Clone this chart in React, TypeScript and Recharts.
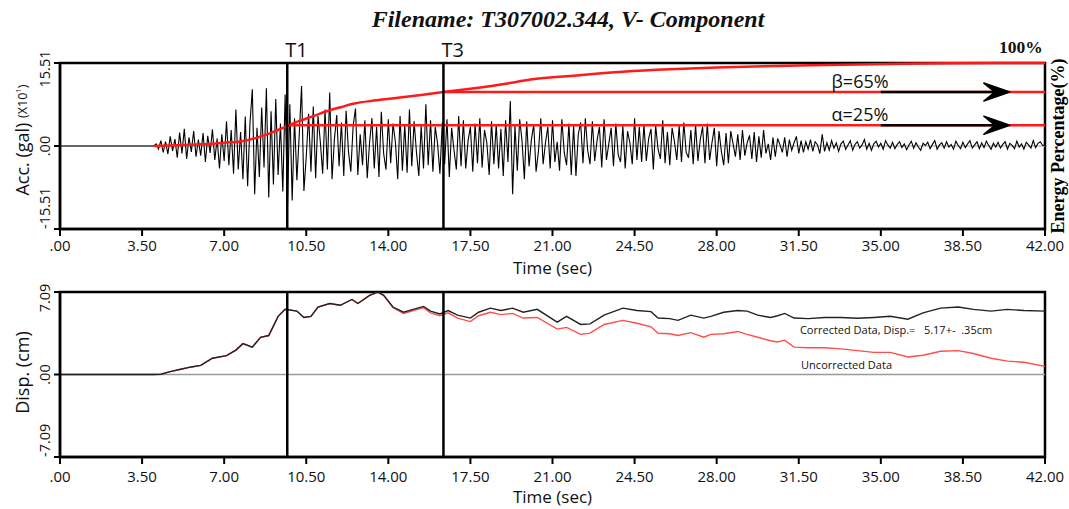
import React from "react";
import {
  LineChart,
  Line,
  XAxis,
  YAxis,
  ReferenceLine,
  ReferenceArea,
  ReferenceDot,
} from "recharts";

const FONT = "'Open Sans', sans-serif";
const SERIF = "'Liberation Serif', 'Times New Roman', serif";

// x axis (seconds)
const xTicks = [0, 3.5, 7, 10.5, 14, 17.5, 21, 24.5, 28, 31.5, 35, 38.5, 42];
const accTicks = [-15.51, 0, 15.51];
const dispTicks = [-7.09, 0, 7.09];

// T1 / T3 markers and energy thresholds
const t1 = 9.69;
const t3 = 16.35;
const alphaPct = 25;
const betaPct = 65;

// acceleration record (gal x10), sampled every 0.1 s from 4.0 s
const accStart = 4.0;
const accStep = 0.1;
const accValues = [
  0, 0.4, -0.6, 1.0, -1.2, 0.8, -1.5, 1.8, -0.9, 1.3,
  -2.2, 2.5, -1.4, 3.2, -2.4, 1.6, -1.1, 2.8, -2.0, 1.2,
  -1.8, 2.4, -3.0, 1.9, -1.3, 3.1, -2.6, 1.4, -4.2, 2.2,
  -2.8, 4.6, -3.6, 3.0, -5.2, 6.8, -4.4, 2.6, -6.2, 5.5,
  -7.5, 4.2, 10.6, -9.0, 3.4, -5.8, 7.2, -4.0, 10.8, -9.6,
  6.5, -7.2, 8.8, -5.4, 4.2, -8.5, 9.6, -11.2, 7.8, -10.2,
  5.2, -6.4, 2.0, 11.2, -8.4, -2.0, 6.0, -4.8, 7.4, -6.0,
  5.6, 0.8, -5.2, 6.8, -4.4, 10.0, -6.2, 1.2, 5.8, -3.8,
  4.4, -5.6, 6.6, -1.0, -4.8, 3.8, 7.0, -5.4, 2.2, -3.6,
  4.8, -6.0, 0.6, 5.2, -4.2, 3.6, -5.8, 6.4, -1.4, -4.4,
  5.0, -3.2, 4.2, 0.8, -6.2, 5.6, -4.6, 4.0, -5.0, 6.8,
  -3.8, 4.6, -1.2, -5.6, 3.8, -4.2, 7.8, -3.6, 4.8, -4.8,
  3.6, 0.4, -5.2, 4.4, -3.4, 5.0, -5.8, 3.4, -0.8, -4.4,
  5.6, -3.8, 4.8, -4.2, 1.0, 3.6, -4.8, 4.2, -3.2, 5.2,
  -4.0, 3.0, 0.6, -5.4, 4.6, -3.4, 4.0, -4.2, 3.2, -5.6,
  4.8, -3.0, 8.4, -9.0, 3.8, -4.6, 5.0, 1.0, -6.2, 4.6,
  -3.8, 1.2, 4.0, -4.8, -1.0, 5.2, -3.4, 0.6, 3.6, -4.2,
  4.8, -3.0, 0.8, -4.6, 5.0, -1.2, -3.6, 4.2, -5.4, 3.8,
  -5.6, 2.2, 4.4, -3.2, 5.2, -0.8, -3.4, 4.6, -2.8, 1.0,
  3.6, -4.0, 5.0, -2.6, 0.4, 3.4, -3.8, 4.2, -1.6, -3.0,
  3.8, -4.2, 2.8, 0.6, -3.4, 5.2, -2.6, 3.6, -3.0, 4.0,
  -2.8, 1.4, 3.2, -4.4, 3.8, -0.6, -2.4, 4.8, -3.2, 2.6,
  -3.6, 3.4, 0.8, -2.6, 3.8, -3.0, 4.4, -1.2, -2.2, 3.0,
  -3.4, 4.0, -2.8, 1.2, 3.6, -3.2, 4.2, -2.6, 0.6, 3.4,
  -3.8, 2.8, -1.0, -3.6, 2.4, -3.2, 2.8, 0.4, -2.0, 2.2,
  -2.6, 3.0, -1.8, 0.6, 2.0, -2.4, 2.6, -3.0, 1.8, -2.2,
  3.0, -1.4, 0.4, -2.6, 1.6, -2.0, 1.4, 0.2, -1.2, 1.6,
  -2.0, 1.2, -0.8, 0.6, 1.8, -1.4, 1.0, -1.2, 0.8, -0.6,
  1.2, -1.0, 0.8, 0.2, -1.4, 2.2, -1.0, 0.6, -0.8, 1.0,
  -0.4, 0.6, -1.0, 0.4, 0.9, -0.6, 0.2, 1.0, -0.8, 0.3,
  0.8, -0.4, 0.2, 1.2, -0.6, 0.5, -0.8, 0.4, 0.9, -0.2,
  0.5, -0.6, 1.0, 0.2, -0.4, 0.7, -0.5, 0.3, 0.8, -0.3,
  0.4, -0.7, 0.2, 0.9, -0.4, 0.6, -0.2, -0.8, 0.5, 0.1,
  0.7, -0.5, 0.3, 1.0, -0.6, 0.2, 0.6, -0.4, 0.8, -0.2,
  0.3, -0.6, 0.9, 0.1, -0.5, 0.7, -0.3, 0.4, 1.0, -0.4,
  0.2, 0.8, -0.5, 0.6, -0.3, 0.9, 0.1, -0.6, 0.5, -0.2,
  0.7, -0.4, 0.3, 0.8, -0.6, 0.5, 0.1, -0.5, 0.9, -0.2,
  0.4, -0.6, 0.7, 0.2, -0.4, 1.0, -0.3, 0.5, 0.8, 0.1,
  0.2,
];

// cumulative energy (%)
const energyTime = [
  4.0, 5.0, 6.0, 7.0, 7.7, 8.4, 9.1, 9.69, 10.1, 10.8, 11.5, 12.0, 12.5, 13.5,
  14.4, 15.4, 16.35, 17.5, 19.0, 20.06, 22.0, 24.0, 26.0, 28.0, 30.0, 32.0,
  34.0, 36.0, 38.0, 40.0, 42.0,
];
const energyPct = [
  0, 1, 2, 4, 5.5, 10, 17, 24, 29, 36, 43, 47, 51, 55, 58, 61.5, 65, 69, 75,
  80, 85, 89.5, 92.5, 94.5, 96, 97.2, 98.2, 99, 99.6, 99.9, 100,
];

// displacement (cm)
const dispTime = [
  0, 4.0, 4.3, 4.7, 5.1, 5.6, 6.0, 6.5, 7.1, 7.5, 7.8, 8.2, 8.55, 8.9, 9.3,
  9.6, 10.1, 10.4, 10.7, 11.0, 11.5, 11.95, 12.45, 12.7, 13.2, 13.55, 13.8,
  14.2, 14.65, 15.25, 15.5, 15.8, 16.2, 16.55, 16.95, 17.5, 17.85, 18.35,
  18.8, 19.3, 19.75, 20.35, 21.2, 21.6, 22.2, 22.6, 23.2, 24.0, 24.6, 25.2,
  25.5, 26.0, 26.35, 26.9, 27.45, 27.75, 28.3, 28.9, 29.3, 29.75, 30.3, 30.6,
  30.9, 31.3, 31.9, 32.6, 33.3, 34.0, 34.7, 35.4, 36.15, 36.8, 37.55, 38.3,
  38.95, 39.7, 40.4, 41.1, 42.0,
];
const dispCorrected = [
  0, 0, 0.02, 0.25, 0.43, 0.65, 0.78, 1.4, 1.62, 2.1, 2.65, 2.35, 3.2, 3.35,
  5.0, 5.6, 5.45, 4.9, 5.0, 5.8, 6.1, 5.95, 6.45, 6.1, 6.8, 7.08, 6.8,
  5.8, 5.35, 5.7, 5.85, 5.45, 5.2, 5.5, 5.1, 4.85, 5.35, 5.7,
  5.5, 5.7, 5.35, 5.6, 4.5, 5.0, 4.3, 4.35, 5.1, 5.7, 5.5, 5.4,
  4.85, 4.8, 4.65, 5.1, 4.85, 5.0, 5.35, 5.5, 5.45, 5.1, 4.9, 5.05,
  5.25, 4.85, 4.8, 4.9, 4.9, 4.83, 4.9, 5.0, 4.75, 5.3, 5.7, 5.8,
  5.6, 5.45, 5.6, 5.5, 5.45,
];
const dispUncorrected = [
  0, 0, 0.02, 0.25, 0.43, 0.65, 0.78, 1.4, 1.62, 2.1, 2.65, 2.35, 3.2, 3.35,
  5.0, 5.6, 5.45, 4.9, 5.0, 5.8, 6.1, 5.95, 6.45, 6.1, 6.8, 7.08, 6.8,
  5.75, 5.25, 5.6, 5.75, 5.3, 5.05, 5.3, 4.85, 4.55, 5.05, 5.35,
  5.15, 5.25, 4.85, 4.9, 3.9, 4.05, 3.45, 3.55, 4.3, 4.65, 4.4, 4.1,
  3.55, 3.5, 3.35, 3.6, 3.2, 3.45, 3.5, 3.7, 3.45, 3.2, 2.9, 2.8,
  2.95, 2.35, 2.3, 2.3, 2.2, 2.05, 1.9, 1.9, 1.5, 1.65, 2.0, 2.05,
  1.8, 1.4, 1.15, 1.05, 0.7,
];

const accData = [{ t: 0, a: 0 }].concat(
  accValues.map((a, i) => ({ t: +(accStart + i * accStep).toFixed(2), a }))
);
const energyData = energyTime.map((t, i) => ({ t, e: energyPct[i] }));
const dispData = dispTime.map((t, i) => ({
  t,
  c: dispCorrected[i],
  u: dispUncorrected[i],
}));

const fmt = (v: number) => (Math.abs(v) < 1e-9 ? ".00" : v.toFixed(2));

// rotated y tick: lowest label starts at its tick, others sit just below centre
const YTick = ({ x, y, payload, lo }: any) => {
  const cx = x - 8;
  const v = payload.value;
  const isLo = v === lo;
  const cy = isLo ? y : v > 0 ? y + 6 : y;
  return (
    <text
      x={cx}
      y={cy}
      transform={`rotate(-90 ${cx} ${cy})`}
      textAnchor={isLo ? "start" : "middle"}
      dominantBaseline="central"
      fontSize={14.5}
      fontFamily={FONT}
      fill="#111"
    >
      {fmt(v)}
    </text>
  );
};

const TimeLabel = ({ viewBox }: any) => (
  <text
    x={viewBox.x + viewBox.width / 2}
    y={viewBox.y + viewBox.height - 6}
    textAnchor="middle"
    fontSize={17}
    fontFamily={FONT}
    fill="#111"
  >
    Time (sec)
  </text>
);

const AccLabel = ({ viewBox }: any) => {
  const x = viewBox.x + 22;
  const y = viewBox.y + viewBox.height / 2 - 6;
  return (
    <text
      x={x}
      y={y}
      transform={`rotate(-90 ${x} ${y})`}
      textAnchor="middle"
      dominantBaseline="central"
      fontFamily={FONT}
      fill="#111"
    >
      <tspan fontSize={18}>Acc. (gal) </tspan>
      <tspan fontSize={12.5}>(X10</tspan>
      <tspan fontSize={8} dy={-5}>1</tspan>
      <tspan fontSize={12.5} dy={5}>)</tspan>
    </text>
  );
};

const DispLabel = ({ viewBox }: any) => {
  const x = viewBox.x + 22;
  const y = viewBox.y + viewBox.height / 2 - 2;
  return (
    <text
      x={x}
      y={y}
      transform={`rotate(-90 ${x} ${y})`}
      textAnchor="middle"
      dominantBaseline="central"
      fontSize={18}
      fontFamily={FONT}
      fill="#111"
    >
      Disp. (cm)
    </text>
  );
};

const EnergyLabel = ({ viewBox }: any) => {
  const x = viewBox.x + 13;
  const y = viewBox.y + viewBox.height / 2;
  return (
    <text
      x={x}
      y={y}
      transform={`rotate(-90 ${x} ${y})`}
      textAnchor="middle"
      dominantBaseline="central"
      fontSize={18}
      fontWeight="bold"
      fontFamily={SERIF}
      fill="#000"
    >
      Energy Percentage(%)
    </text>
  );
};

const TLabel = ({ viewBox, text }: any) => (
  <text
    x={viewBox.x - 2}
    y={viewBox.y - 6}
    fontSize={20}
    fontFamily={FONT}
    fill="#111"
  >
    {text}
  </text>
);

const DotText = ({ viewBox, text, size, anchor, dy, bold, serif }: any) => (
  <text
    x={viewBox.x}
    y={viewBox.y + (dy || 0)}
    textAnchor={anchor || "start"}
    dominantBaseline="central"
    fontSize={size}
    fontWeight={bold ? "bold" : "normal"}
    fontFamily={serif ? SERIF : FONT}
    fill="#111"
    style={{ whiteSpace: "pre" }}
  >
    {text}
  </text>
);

const Arrow = (props: any) => {
  const { x1, y1, x2 } = props;
  const y = y1;
  return (
    <g>
      <line x1={x1} y1={y} x2={x2 - 12} y2={y} stroke="#000" strokeWidth={2.5} />
      <polygon
        points={`${x2},${y} ${x2 - 26},${y - 9} ${x2 - 15},${y} ${x2 - 26},${y + 9}`}
        fill="#000"
        stroke="#000"
        strokeWidth={1.5}
        strokeLinejoin="round"
      />
    </g>
  );
};

const xAxisProps: any = {
  type: "number",
  dataKey: "t",
  domain: [0, 42],
  ticks: xTicks,
  interval: 0,
  allowDataOverflow: true,
  tickFormatter: fmt,
  tick: { fontSize: 15, fill: "#111", fontFamily: FONT },
  tickSize: 7,
  axisLine: { stroke: "#000", strokeWidth: 2.5 },
  tickLine: { stroke: "#000", strokeWidth: 2 },
};

const yAxisLine = { stroke: "#000", strokeWidth: 2.5 };
const RED = "#ff1a1a";

export default function App() {
  return (
    <div style={{ position: "absolute", left: 0, top: 0, width: 1069, height: 509, background: "#fff" }}>
      <div
        style={{
          position: "absolute",
          left: 268,
          top: 5,
          width: 600,
          textAlign: "center",
          fontFamily: SERIF,
          fontWeight: "bold",
          fontStyle: "italic",
          fontSize: 24,
          lineHeight: "28px",
          color: "#111",
        }}
      >
        Filename: T307002.344, V- Component
      </div>

      <div style={{ position: "absolute", left: 0, top: 0 }}>
        <LineChart width={1069} height={280} data={accData} margin={{ top: 63, right: 0, bottom: 0, left: 0 }}>
          <XAxis {...xAxisProps} tickMargin={4} height={51} label={<TimeLabel />} />
          <YAxis
            yAxisId="acc"
            type="number"
            domain={[-15.51, 15.51]}
            ticks={accTicks}
            width={60}
            allowDataOverflow
            tick={<YTick lo={-15.51} />}
            tickSize={6}
            axisLine={yAxisLine}
            tickLine={{ stroke: "#000", strokeWidth: 2 }}
            label={<AccLabel />}
          />
          <YAxis
            yAxisId="energy"
            orientation="right"
            type="number"
            domain={[-100, 100]}
            width={24}
            tick={false}
            tickLine={false}
            axisLine={false}
            label={<EnergyLabel />}
          />
          <ReferenceArea
            yAxisId="acc"
            x1={0}
            x2={42}
            y1={-15.51}
            y2={15.51}
            fill="none"
            fillOpacity={0}
            stroke="#000"
            strokeWidth={2.5}
          />
          <ReferenceLine yAxisId="acc" y={0} stroke="#9a9a9a" strokeWidth={1} />
          <Line
            yAxisId="acc"
            dataKey="a"
            stroke="#000"
            strokeWidth={1.1}
            dot={false}
            isAnimationActive={false}
          />
          <Line
            yAxisId="energy"
            data={energyData}
            dataKey="e"
            type="monotone"
            stroke={RED}
            strokeWidth={2.5}
            dot={false}
            isAnimationActive={false}
          />
          <ReferenceLine
            yAxisId="energy"
            segment={[{ x: t1, y: alphaPct }, { x: 42, y: alphaPct }]}
            stroke={RED}
            strokeWidth={2.5}
          />
          <ReferenceLine
            yAxisId="energy"
            segment={[{ x: t3, y: betaPct }, { x: 42, y: betaPct }]}
            stroke={RED}
            strokeWidth={2.5}
          />
          <ReferenceLine
            yAxisId="energy"
            segment={[{ x: 35, y: betaPct }, { x: 40.5, y: betaPct }]}
            shape={Arrow}
          />
          <ReferenceLine
            yAxisId="energy"
            segment={[{ x: 35, y: alphaPct }, { x: 40.5, y: alphaPct }]}
            shape={Arrow}
          />
          <ReferenceLine yAxisId="acc" x={t1} stroke="#000" strokeWidth={2.5} label={<TLabel text="T1" />} />
          <ReferenceLine yAxisId="acc" x={t3} stroke="#000" strokeWidth={2.5} label={<TLabel text="T3" />} />
          <ReferenceDot
            yAxisId="energy"
            x={32.9}
            y={betaPct}
            r={0}
            stroke="none"
            label={<DotText text="β=65%" size={18} dy={-11} />}
          />
          <ReferenceDot
            yAxisId="energy"
            x={32.9}
            y={alphaPct}
            r={0}
            stroke="none"
            label={<DotText text="α=25%" size={18} dy={-11} />}
          />
          <ReferenceDot
            yAxisId="energy"
            x={41.9}
            y={100}
            r={0}
            stroke="none"
            label={<DotText text="100%" size={17.5} dy={-16} anchor="end" bold serif />}
          />
        </LineChart>
      </div>

      <div style={{ position: "absolute", left: 0, top: 280 }}>
        <LineChart width={1069} height={229} data={dispData} margin={{ top: 12, right: 24, bottom: 0, left: 0 }}>
          <XAxis {...xAxisProps} tickMargin={7} height={52} label={<TimeLabel />} />
          <YAxis
            type="number"
            domain={[-7.09, 7.09]}
            ticks={dispTicks}
            width={60}
            allowDataOverflow
            tick={<YTick lo={-7.09} />}
            tickSize={6}
            axisLine={yAxisLine}
            tickLine={{ stroke: "#000", strokeWidth: 2 }}
            label={<DispLabel />}
          />
          <ReferenceArea
            x1={0}
            x2={42}
            y1={-7.09}
            y2={7.09}
            fill="none"
            fillOpacity={0}
            stroke="#000"
            strokeWidth={2.5}
          />
          <ReferenceLine y={0} stroke="#9a9a9a" strokeWidth={1.5} />
          <Line
            dataKey="u"
            stroke="#ff4d4d"
            strokeWidth={1.4}
            dot={false}
            isAnimationActive={false}
          />
          <Line
            dataKey="c"
            stroke="#222"
            strokeWidth={1.4}
            dot={false}
            isAnimationActive={false}
          />
          <ReferenceLine x={t1} stroke="#000" strokeWidth={2.5} />
          <ReferenceLine x={t3} stroke="#000" strokeWidth={2.5} />
          <ReferenceDot
            x={31.55}
            y={3.88}
            r={0}
            stroke="none"
            label={<DotText text="Corrected Data, Disp.=   5.17+-  .35cm" size={11} />}
          />
          <ReferenceDot
            x={31.6}
            y={0.86}
            r={0}
            stroke="none"
            label={<DotText text="Uncorrected Data" size={11} />}
          />
        </LineChart>
      </div>
    </div>
  );
}
